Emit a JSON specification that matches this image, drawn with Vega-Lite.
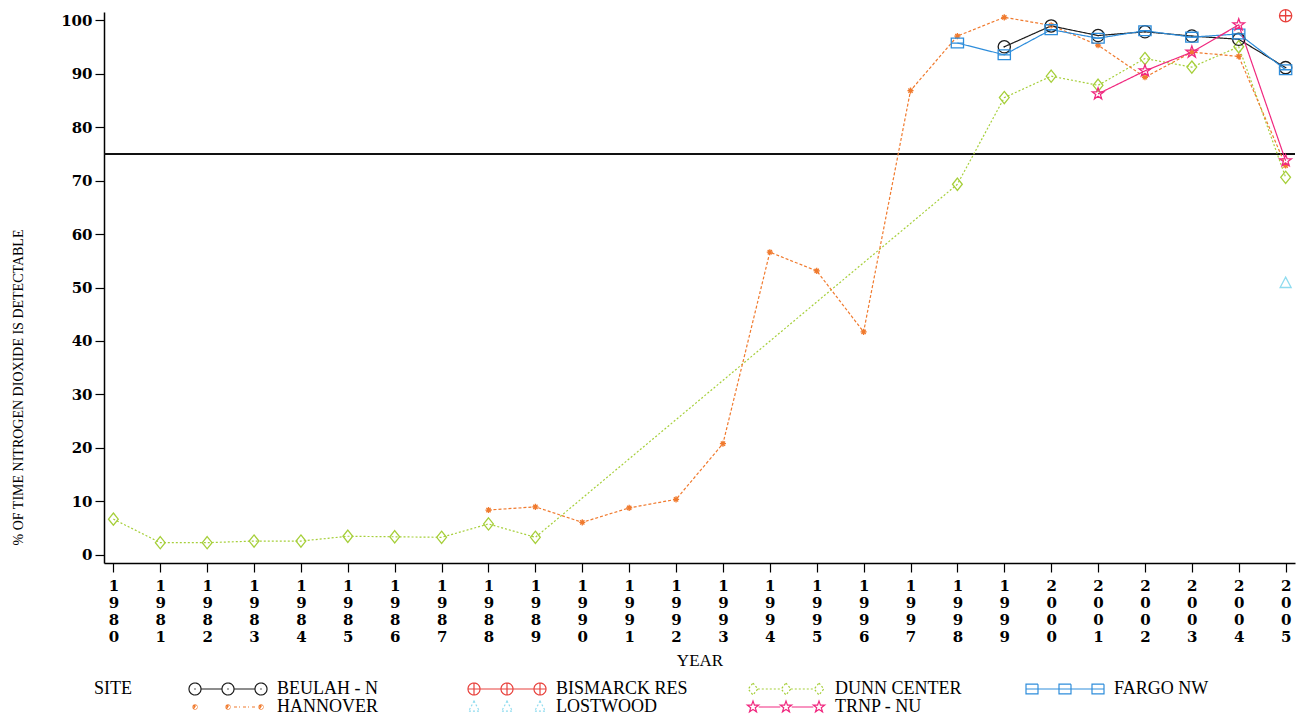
{
  "$schema": "https://vega.github.io/schema/vega-lite/v6.json",
  "width": 1191,
  "height": 551,
  "autosize": "none",
  "padding": {"left": 104, "top": 12, "right": 7, "bottom": 154},
  "background": "white",
  "config": {
    "view": {"stroke": null},
    "axis": {
      "grid": false,
      "domainColor": "#000000",
      "domainWidth": 1.5,
      "tickColor": "#000000",
      "tickWidth": 1.2,
      "tickSize": 9,
      "labelColor": "#000000",
      "labelFont": "DejaVu Serif",
      "labelFontSize": 15,
      "labelFontWeight": "bold",
      "titleFont": "Liberation Serif",
      "titleColor": "#000000",
      "titleFontWeight": "normal",
      "titleFontSize": 17
    }
  },
  "resolve": {"legend": {"color": "independent", "shape": "independent", "strokeDash": "independent"}},
  "data": {
    "values": [
      {"site": "DUNN CENTER", "year": 1980, "pct": 6.7},
      {"site": "DUNN CENTER", "year": 1981, "pct": 2.3},
      {"site": "DUNN CENTER", "year": 1982, "pct": 2.3},
      {"site": "DUNN CENTER", "year": 1983, "pct": 2.6},
      {"site": "DUNN CENTER", "year": 1984, "pct": 2.6},
      {"site": "DUNN CENTER", "year": 1985, "pct": 3.5},
      {"site": "DUNN CENTER", "year": 1986, "pct": 3.4},
      {"site": "DUNN CENTER", "year": 1987, "pct": 3.3},
      {"site": "DUNN CENTER", "year": 1988, "pct": 5.8},
      {"site": "DUNN CENTER", "year": 1989, "pct": 3.3},
      {"site": "DUNN CENTER", "year": 1998, "pct": 69.3},
      {"site": "DUNN CENTER", "year": 1999, "pct": 85.5},
      {"site": "DUNN CENTER", "year": 2000, "pct": 89.5},
      {"site": "DUNN CENTER", "year": 2001, "pct": 87.8},
      {"site": "DUNN CENTER", "year": 2002, "pct": 92.8},
      {"site": "DUNN CENTER", "year": 2003, "pct": 91.2},
      {"site": "DUNN CENTER", "year": 2004, "pct": 95.0},
      {"site": "DUNN CENTER", "year": 2005, "pct": 70.6},
      {"site": "HANNOVER", "year": 1988, "pct": 8.4},
      {"site": "HANNOVER", "year": 1989, "pct": 9.0},
      {"site": "HANNOVER", "year": 1990, "pct": 6.1},
      {"site": "HANNOVER", "year": 1991, "pct": 8.8},
      {"site": "HANNOVER", "year": 1992, "pct": 10.4},
      {"site": "HANNOVER", "year": 1993, "pct": 20.8},
      {"site": "HANNOVER", "year": 1994, "pct": 56.6},
      {"site": "HANNOVER", "year": 1995, "pct": 53.1},
      {"site": "HANNOVER", "year": 1996, "pct": 41.7},
      {"site": "HANNOVER", "year": 1997, "pct": 86.8},
      {"site": "HANNOVER", "year": 1998, "pct": 97.0},
      {"site": "HANNOVER", "year": 1999, "pct": 100.5},
      {"site": "HANNOVER", "year": 2000, "pct": 99.0},
      {"site": "HANNOVER", "year": 2001, "pct": 95.3},
      {"site": "HANNOVER", "year": 2002, "pct": 89.3},
      {"site": "HANNOVER", "year": 2003, "pct": 94.0},
      {"site": "HANNOVER", "year": 2004, "pct": 93.2},
      {"site": "HANNOVER", "year": 2005, "pct": 72.8},
      {"site": "BEULAH - N", "year": 1999, "pct": 95.0},
      {"site": "BEULAH - N", "year": 2000, "pct": 98.9},
      {"site": "BEULAH - N", "year": 2001, "pct": 97.1},
      {"site": "BEULAH - N", "year": 2002, "pct": 97.8},
      {"site": "BEULAH - N", "year": 2003, "pct": 97.0},
      {"site": "BEULAH - N", "year": 2004, "pct": 96.4},
      {"site": "BEULAH - N", "year": 2005, "pct": 91.1},
      {"site": "FARGO NW", "year": 1998, "pct": 95.7},
      {"site": "FARGO NW", "year": 1999, "pct": 93.5},
      {"site": "FARGO NW", "year": 2000, "pct": 98.2},
      {"site": "FARGO NW", "year": 2001, "pct": 96.6},
      {"site": "FARGO NW", "year": 2002, "pct": 98.0},
      {"site": "FARGO NW", "year": 2003, "pct": 96.8},
      {"site": "FARGO NW", "year": 2004, "pct": 97.4},
      {"site": "FARGO NW", "year": 2005, "pct": 90.7},
      {"site": "TRNP - NU", "year": 2001, "pct": 86.2},
      {"site": "TRNP - NU", "year": 2002, "pct": 90.5},
      {"site": "TRNP - NU", "year": 2003, "pct": 94.0},
      {"site": "TRNP - NU", "year": 2004, "pct": 99.1},
      {"site": "TRNP - NU", "year": 2005, "pct": 73.7},
      {"site": "BISMARCK RES", "year": 2005, "pct": 100.8},
      {"site": "LOSTWOOD", "year": 2005, "pct": 50.8}
    ]
  },
  "layer": [
    {
      "mark": {"type": "rule", "color": "#111111", "strokeWidth": 1.5},
      "encoding": {"y": {"datum": 75, "type": "quantitative"}}
    },
    {
      "mark": {"type": "line", "strokeWidth": 1.2},
      "encoding": {
        "x": {
          "field": "year",
          "type": "quantitative",
          "scale": {"domain": [1979.8, 2005.2], "nice": false, "zero": false},
          "axis": {
            "title": "YEAR",
            "values": [1980, 1981, 1982, 1983, 1984, 1985, 1986, 1987, 1988, 1989, 1990, 1991, 1992, 1993, 1994, 1995, 1996, 1997, 1998, 1999, 2000, 2001, 2002, 2003, 2004, 2005],
            "labelExpr": "split(toString(datum.value), '')",
            "labelLineHeight": 17,
            "labelBaseline": "top",
            "labelAngle": 0,
            "labelPadding": 6,
            "labelOverlap": false,
            "labelFlush": false,
            "titlePadding": 8
          }
        },
        "y": {
          "field": "pct",
          "type": "quantitative",
          "scale": {"domain": [-1.5, 101.5], "nice": false, "zero": false},
          "axis": {
            "title": "% OF TIME NITROGEN DIOXIDE IS DETECTABLE",
            "values": [0, 5, 10, 15, 20, 25, 30, 35, 40, 45, 50, 55, 60, 65, 70, 75, 80, 85, 90, 95, 100],
            "labelOverlap": false,
            "labelPadding": 3,
            "titleFontSize": 14,
            "titleX": -86,
            "titleY": 375,
            "titleAngle": 270,
            "titleAlign": "center",
            "titleBaseline": "middle"
          }
        },
        "color": {
          "field": "site",
          "type": "nominal",
          "scale": {
            "domain": ["BEULAH - N", "BISMARCK RES", "DUNN CENTER", "FARGO NW", "HANNOVER", "LOSTWOOD", "TRNP - NU"],
            "range": ["#1c1c1c", "#e8413c", "#a6cf3a", "#2e8ddb", "#f07a2e", "#8fdcef", "#f0287f"]
          },
          "legend": {
            "title": "SITE",
            "orient": "none",
            "legendX": -10,
            "legendY": 668,
            "direction": "horizontal",
            "columns": 4,
            "gridAlign": "all",
            "columnPadding": 56,
            "rowPadding": -2,
            "titleOrient": "left",
            "titleAnchor": "start",
            "titlePadding": 54,
            "titleFont": "Liberation Serif",
            "titleFontSize": 18,
            "titleFontWeight": "normal",
            "titleColor": "#000000",
            "labelFont": "Liberation Serif",
            "labelFontSize": 18,
            "labelColor": "#000000",
            "labelOffset": 73,
            "symbolSize": 144,
            "symbolStrokeWidth": 1.2,
            "encode": {
              "symbols": {
                "update": {
                  "fill": {"value": "transparent"},
                  "shape": {
                    "signal": "datum.value === 'BEULAH - N' ? 'M-1,0A1,1 0 1,0 1,0A1,1 0 1,0 -1,0M-0.12,0L0.12,0M4.5,0A1,1 0 1,0 6.5,0A1,1 0 1,0 4.5,0M5.38,0L5.62,0M10,0A1,1 0 1,0 12,0A1,1 0 1,0 10,0M10.88,0L11.12,0M1,0L4.5,0M6.5,0L10,0' : datum.value === 'BISMARCK RES' ? 'M-1,0A1,1 0 1,0 1,0A1,1 0 1,0 -1,0M-1,0L1,0M0,-1L0,1M4.5,0A1,1 0 1,0 6.5,0A1,1 0 1,0 4.5,0M4.5,0L6.5,0M5.5,-1L5.5,1M10,0A1,1 0 1,0 12,0A1,1 0 1,0 10,0M10,0L12,0M11,-1L11,1M1,0L4.5,0M6.5,0L10,0' : datum.value === 'DUNN CENTER' ? 'M0,-1L0.8,0L0,1L-0.8,0ZM5.5,-1L6.3,0L5.5,1L4.7,0ZM11,-1L11.8,0L11,1L10.2,0ZM0.8,0L4.7,0M6.3,0L10.2,0' : datum.value === 'FARGO NW' ? 'M-1,-0.8L1,-0.8L1,0.8L-1,0.8ZM4.5,-0.8L6.5,-0.8L6.5,0.8L4.5,0.8ZM10,-0.8L12,-0.8L12,0.8L10,0.8ZM-1,0L12,0' : datum.value === 'HANNOVER' ? 'M-0.5,0L0.5,0M0,-0.5L0,0.5M-0.35,-0.35L0.35,0.35M-0.35,0.35L0.35,-0.35M5,0L6,0M5.5,-0.5L5.5,0.5M5.15,-0.35L5.85,0.35M5.15,0.35L5.85,-0.35M10.5,0L11.5,0M11,-0.5L11,0.5M10.65,-0.35L11.35,0.35M10.65,0.35L11.35,-0.35M6.5,0L7.5,0M8,0L9,0M9.5,0L10.3,0' : datum.value === 'LOSTWOOD' ? 'M0,-1L0.9,0.7L-0.9,0.7ZM5.5,-1L6.4,0.7L4.6,0.7ZM11,-1L11.9,0.7L10.1,0.7Z' : 'M0,-1L0.235,-0.324L0.951,-0.309L0.38,0.124L0.588,0.809L0,0.4L-0.588,0.809L-0.38,0.124L-0.951,-0.309L-0.235,-0.324ZM5.5,-1L5.735,-0.324L6.451,-0.309L5.88,0.124L6.088,0.809L5.5,0.4L4.912,0.809L5.12,0.124L4.549,-0.309L5.265,-0.324ZM11,-1L11.235,-0.324L11.951,-0.309L11.38,0.124L11.588,0.809L11,0.4L10.412,0.809L10.62,0.124L10.049,-0.309L10.765,-0.324ZM0.95,0L4.55,0M6.45,0L10.05,0'"
                  }
                }
              }
            }
          }
        },
        "strokeDash": {
          "field": "site",
          "type": "nominal",
          "scale": {
            "domain": ["BEULAH - N", "BISMARCK RES", "DUNN CENTER", "FARGO NW", "HANNOVER", "LOSTWOOD", "TRNP - NU"],
            "range": [[1, 0], [1, 0], [2, 2], [1, 0], [3, 2], [2, 2], [1, 0]]
          },
          "legend": null
        }
      }
    },
    {
      "mark": {"type": "point", "filled": false, "size": 150, "strokeWidth": 1.3, "opacity": 1},
      "encoding": {
        "x": {"field": "year", "type": "quantitative"},
        "y": {"field": "pct", "type": "quantitative"},
        "shape": {
          "field": "site",
          "type": "nominal",
          "scale": {
            "domain": ["BEULAH - N", "BISMARCK RES", "DUNN CENTER", "FARGO NW", "HANNOVER", "LOSTWOOD", "TRNP - NU"],
            "range": [
              "M-1,0A1,1 0 1,0 1,0A1,1 0 1,0 -1,0M-0.12,0L0.12,0",
              "M-1,0A1,1 0 1,0 1,0A1,1 0 1,0 -1,0M-1,0L1,0M0,-1L0,1",
              "M0,-1L0.8,0L0,1L-0.8,0Z",
              "M-1,-0.8L1,-0.8L1,0.8L-1,0.8ZM-1,0L1,0",
              "M-0.5,0L0.5,0M0,-0.5L0,0.5M-0.35,-0.35L0.35,0.35M-0.35,0.35L0.35,-0.35",
              "M0,-1L0.9,0.7L-0.9,0.7Z",
              "M0,-1L0.235,-0.324L0.951,-0.309L0.38,0.124L0.588,0.809L0,0.4L-0.588,0.809L-0.38,0.124L-0.951,-0.309L-0.235,-0.324Z"
            ]
          },
          "legend": null
        },
        "color": {"field": "site", "type": "nominal", "legend": null}
      }
    }
  ]
}
